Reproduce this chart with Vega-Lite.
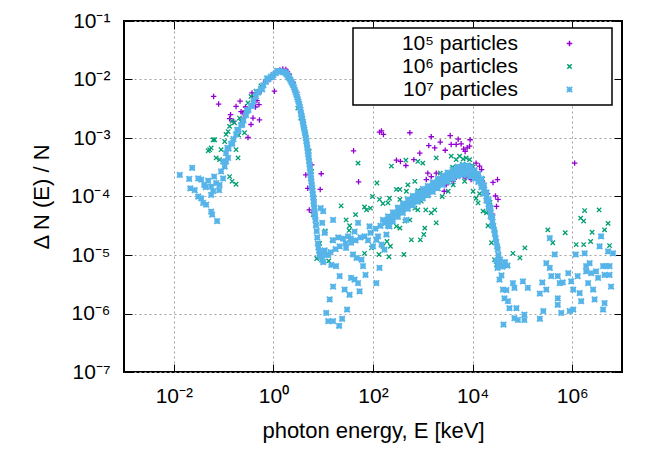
{
"$schema":"https://vega.github.io/schema/vega-lite/v6.json",
"width":498,"height":351,"autosize":"none",
"padding":{"left":124,"top":21,"right":42,"bottom":92},
"background":"white",
"config":{
"font":"Liberation Sans",
"view":{"stroke":"black","strokeWidth":2},
"axis":{"domain":false,"tickColor":"black","tickWidth":1,"labelColor":"black","labelFontSize":21,"titleFontSize":22,"titleFontWeight":"normal","titleColor":"black","gridColor":"#a0a0a0","gridDash":[2,3],"gridWidth":1,"gridOpacity":1,"labelFlush":false,"labelOverlap":false},
"legend":{"orient":"none","legendX":229,"legendY":7,"strokeColor":"black","strokeWidth":1.5,"fillColor":"white","padding":5,"labelFontSize":21,"labelColor":"black","labelAlign":"right","labelOffset":-62,"symbolOffset":201,"symbolSize":30,"symbolStrokeWidth":1.5,"rowPadding":1,"labelLimit":300,"titleOrient":"right","titlePadding":32,"titleFontSize":21}
},
"data":{"values":[
{"n":"5","E":0.0631,"N":5.13e-3},{"n":"5","E":0.0794,"N":3.8e-3},{"n":"5","E":0.138,"N":2.51e-3},{"n":"5","E":0.132,"N":2.14e-3},{"n":"5","E":0.155,"N":1.95e-3},{"n":"5","E":0.178,"N":3.47e-3},{"n":"5","E":0.214,"N":4.27e-3},{"n":"5","E":0.224,"N":2.82e-3},{"n":"5","E":0.245,"N":2.69e-3},{"n":"5","E":0.275,"N":3.39e-3},{"n":"5","E":0.372,"N":5.89e-3},{"n":"5","E":0.417,"N":5.13e-3},{"n":"5","E":0.437,"N":3.39e-3},{"n":"5","E":0.513,"N":3.72e-3},{"n":"5","E":0.525,"N":2.04e-3},{"n":"5","E":0.309,"N":1.02e-3},{"n":"5","E":0.355,"N":1.7e-3},{"n":"5","E":0.389,"N":2.19e-3},{"n":"5","E":0.468,"N":4.37e-3},{"n":"5","E":0.562,"N":6.31e-3},{"n":"5","E":0.851,"N":1.0e-2},{"n":"5","E":1.05,"N":6.31e-3},{"n":"5","E":1.23,"N":1.38e-2},{"n":"5","E":1.55,"N":1.51e-2},{"n":"5","E":1.78,"N":1.48e-2},{"n":"5","E":2.09,"N":1.23e-2},{"n":"5","E":3.55,"N":2.69e-3},{"n":"5","E":4.47,"N":2.34e-4},{"n":"5","E":4.9,"N":1.38e-4},{"n":"5","E":5.25,"N":5.89e-5},{"n":"5","E":5.89,"N":3.47e-4},{"n":"5","E":9.12,"N":2.45e-4},{"n":"5","E":8.71,"N":1.32e-4},{"n":"5","E":6.03,"N":5.37e-5},{"n":"5","E":0.708,"N":9.55e-3},{"n":"5","E":1.0,"N":1.26e-2},{"n":"5","E":1.35,"N":1.45e-2},{"n":"5","E":1.12,"N":1.35e-2},{"n":"5","E":1.91,"N":1.38e-2},{"n":"5","E":2.51,"N":8.91e-3},{"n":"5","E":2.95,"N":6.03e-3},{"n":"5","E":3.98,"N":1.91e-3},{"n":"5","E":0.631,"N":8.51e-3},{"n":"5","E":0.251,"N":2.19e-3},
{"n":"5","E":135,"N":1.26e-3},{"n":"5","E":162,"N":1.15e-3},{"n":"5","E":148,"N":1.32e-3},{"n":"5","E":550,"N":1.23e-3},{"n":"5","E":40.7,"N":6.03e-4},{"n":"5","E":51.3,"N":1.78e-4},{"n":"5","E":295,"N":4.17e-4},{"n":"5","E":355,"N":3.98e-4},{"n":"5","E":457,"N":3.39e-4},{"n":"5","E":661,"N":4.27e-4},{"n":"5","E":871,"N":5.5e-4},{"n":"5","E":1318,"N":7.41e-4},{"n":"5","E":1479,"N":1.05e-3},{"n":"5","E":1738,"N":6.76e-4},{"n":"5","E":2239,"N":8.51e-4},{"n":"5","E":2818,"N":6.17e-4},{"n":"5","E":3548,"N":1.1e-3},{"n":"5","E":3715,"N":7.76e-4},{"n":"5","E":4677,"N":7.76e-4},{"n":"5","E":5129,"N":9.55e-4},{"n":"5","E":5888,"N":7.94e-4},{"n":"5","E":6607,"N":6.46e-4},{"n":"5","E":7079,"N":5.89e-4},{"n":"5","E":7762,"N":6.76e-4},{"n":"5","E":8710,"N":7.24e-4},{"n":"5","E":8913,"N":9.33e-4},{"n":"5","E":1259,"N":2.51e-4},{"n":"5","E":1175,"N":1.95e-4},{"n":"5","E":1479,"N":2.19e-4},{"n":"5","E":1862,"N":2.51e-4},{"n":"5","E":2884,"N":2.19e-4},{"n":"5","E":2951,"N":1.58e-4},{"n":"5","E":2692,"N":1.23e-4},{"n":"5","E":4074,"N":1.82e-4},{"n":"5","E":4677,"N":2.14e-4},{"n":"5","E":6457,"N":2.29e-4},{"n":"5","E":7079,"N":2.09e-4},{"n":"5","E":9333,"N":1.95e-4},{"n":"5","E":11750,"N":3.72e-4},{"n":"5","E":13800,"N":3.31e-4},{"n":"5","E":15140,"N":2.88e-4},{"n":"5","E":25700,"N":1.74e-4},{"n":"5","E":31620,"N":1.95e-4},{"n":"5","E":28840,"N":1.02e-4},{"n":"5","E":32360,"N":8.91e-5},{"n":"5","E":30200,"N":6.76e-5},{"n":"5","E":1120000,"N":3.72e-4},{"n":"5","E":1995,"N":2.0e-4},{"n":"5","E":3981,"N":2.82e-4},{"n":"5","E":7943,"N":3.16e-4},{"n":"5","E":15850,"N":1.78e-4},{"n":"5","E":19950,"N":1.12e-4},{"n":"5","E":25120,"N":5.01e-5},{"n":"5","E":1000,"N":1.32e-4},{"n":"5","E":631,"N":1.0e-4},
{"n":"6","E":0.0617,"N":9.33e-4},{"n":"6","E":0.0661,"N":9.33e-4},{"n":"6","E":0.049,"N":6.03e-4},{"n":"6","E":0.0562,"N":6.76e-4},{"n":"6","E":0.0525,"N":6.31e-4},{"n":"6","E":0.0708,"N":4.57e-4},{"n":"6","E":0.0832,"N":4.27e-4},{"n":"6","E":0.0891,"N":6.31e-4},{"n":"6","E":0.105,"N":8.71e-4},{"n":"6","E":0.112,"N":1.15e-3},{"n":"6","E":0.132,"N":1.58e-3},{"n":"6","E":0.148,"N":1.95e-3},{"n":"6","E":0.123,"N":1.29e-3},{"n":"6","E":0.178,"N":6.31e-4},{"n":"6","E":0.195,"N":4.57e-4},{"n":"6","E":0.132,"N":2.19e-4},{"n":"6","E":0.148,"N":1.82e-4},{"n":"6","E":0.178,"N":1.62e-4},{"n":"6","E":0.166,"N":1.82e-3},{"n":"6","E":0.209,"N":2.19e-3},{"n":"6","E":0.263,"N":1.23e-3},{"n":"6","E":0.309,"N":3.98e-3},{"n":"6","E":0.355,"N":5.13e-3},{"n":"6","E":0.447,"N":6.31e-3},{"n":"6","E":0.562,"N":7.76e-3},{"n":"6","E":0.708,"N":9.33e-3},{"n":"6","E":0.977,"N":1.15e-2},{"n":"6","E":1.26,"N":1.38e-2},{"n":"6","E":1.58,"N":1.35e-2},{"n":"6","E":2.0,"N":1.17e-2},{"n":"6","E":0.224,"N":1.91e-3},{"n":"6","E":0.282,"N":2.75e-3},{"n":"6","E":0.2,"N":1.12e-3},{"n":"6","E":3.09,"N":3.24e-3},{"n":"6","E":3.55,"N":2.19e-3},{"n":"6","E":5.25,"N":5.89e-4},{"n":"6","E":5.89,"N":2.69e-4},{"n":"6","E":6.61,"N":9.33e-5},{"n":"6","E":6.31,"N":4.9e-5},{"n":"6","E":7.08,"N":3.24e-5},{"n":"6","E":7.41,"N":8.71e-6},{"n":"6","E":11.0,"N":2.57e-5},{"n":"6","E":15.1,"N":1.82e-5},{"n":"6","E":12.9,"N":7.94e-6},{"n":"6","E":8.51,"N":1.58e-5},{"n":"6","E":9.12,"N":1.0e-5},{"n":"6","E":4.57,"N":1.0e-3},{"n":"6","E":3.98,"N":1.58e-3},
{"n":"6","E":50.1,"N":3.72e-4},{"n":"6","E":22.9,"N":6.92e-5},{"n":"6","E":28.8,"N":3.98e-5},{"n":"6","E":33.9,"N":3.16e-5},{"n":"6","E":33.1,"N":2.63e-5},{"n":"6","E":44.7,"N":4.9e-5},{"n":"6","E":67.6,"N":6.61e-5},{"n":"6","E":74.1,"N":5.89e-5},{"n":"6","E":120,"N":1.7e-4},{"n":"6","E":97.7,"N":1.0e-4},{"n":"6","E":89.1,"N":6.31e-5},{"n":"6","E":135,"N":8.91e-5},{"n":"6","E":158,"N":7.59e-5},{"n":"6","E":200,"N":7.76e-5},{"n":"6","E":214,"N":9.33e-5},{"n":"6","E":234,"N":3.31e-4},{"n":"6","E":295,"N":1.32e-4},{"n":"6","E":347,"N":1.32e-4},{"n":"6","E":457,"N":4.17e-4},{"n":"6","E":468,"N":1.23e-4},{"n":"6","E":501,"N":1.58e-4},{"n":"6","E":692,"N":1.82e-4},{"n":"6","E":794,"N":3.98e-4},{"n":"6","E":1000,"N":3.72e-4},{"n":"6","E":1148,"N":5.89e-5},{"n":"6","E":1479,"N":5.25e-5},{"n":"6","E":1738,"N":5.89e-5},{"n":"6","E":1862,"N":3.55e-5},{"n":"6","E":933,"N":8.32e-5},{"n":"6","E":794,"N":5.89e-5},{"n":"6","E":692,"N":6.31e-5},{"n":"6","E":550,"N":3.98e-5},{"n":"6","E":437,"N":3.8e-5},{"n":"6","E":347,"N":2.88e-5},{"n":"6","E":295,"N":3.09e-5},{"n":"6","E":224,"N":1.41e-5},{"n":"6","E":191,"N":1.7e-5},{"n":"6","E":158,"N":1.41e-5},{"n":"6","E":132,"N":1.02e-5},{"n":"6","E":93.3,"N":1.32e-5},{"n":"6","E":67.6,"N":1.07e-5},{"n":"6","E":209,"N":9.33e-6},{"n":"6","E":417,"N":1.02e-5},{"n":"6","E":589,"N":1.82e-5},{"n":"6","E":891,"N":1.82e-5},{"n":"6","E":1047,"N":2.24e-5},{"n":"6","E":1096,"N":2.88e-5},{"n":"6","E":347,"N":8.91e-5},{"n":"6","E":1862,"N":4.57e-4},{"n":"6","E":2239,"N":2.51e-4},{"n":"6","E":2455,"N":1.0e-4},{"n":"6","E":3715,"N":4.9e-4},{"n":"6","E":4677,"N":4.27e-4},{"n":"6","E":5495,"N":4.9e-4},{"n":"6","E":6457,"N":4.37e-4},{"n":"6","E":7413,"N":4.57e-4},{"n":"6","E":8710,"N":4.27e-4},{"n":"6","E":9772,"N":3.39e-4},{"n":"6","E":10230,"N":1.23e-4},{"n":"6","E":12880,"N":7.76e-5},{"n":"6","E":16220,"N":5.62e-5},{"n":"6","E":19050,"N":5.25e-5},{"n":"6","E":20420,"N":3.16e-5},{"n":"6","E":23990,"N":1.62e-5},{"n":"6","E":27540,"N":8.32e-6},{"n":"6","E":30200,"N":6.76e-6},{"n":"6","E":34670,"N":7.76e-6},{"n":"6","E":40740,"N":6.46e-6},{"n":"6","E":64570,"N":1.07e-5},{"n":"6","E":89130,"N":8.91e-6},{"n":"6","E":112200,"N":1.32e-5},{"n":"6","E":2951,"N":1.82e-4},{"n":"6","E":3236,"N":1.23e-4},{"n":"6","E":4074,"N":1.58e-4},{"n":"6","E":6918,"N":1.82e-4},{"n":"6","E":11750,"N":9.33e-5},{"n":"6","E":13800,"N":1.12e-4},
{"n":"6","E":323600,"N":2.69e-5},{"n":"6","E":407400,"N":1.62e-5},{"n":"6","E":724400,"N":2.4e-5},{"n":"6","E":1202000,"N":1.51e-5},{"n":"6","E":1479000,"N":4.27e-5},{"n":"6","E":1698000,"N":3.8e-5},{"n":"6","E":1778000,"N":5.75e-5},{"n":"6","E":1698000,"N":1.51e-5},{"n":"6","E":2512000,"N":2.45e-5},{"n":"6","E":3467000,"N":5.89e-5},{"n":"6","E":4467000,"N":2.69e-5},{"n":"6","E":5248000,"N":3.47e-5},{"n":"6","E":5623000,"N":1.45e-5},{"n":"6","E":2344000,"N":1.7e-5},
{"n":"6","E":1585,"N":1.58e-4},{"n":"6","E":2512,"N":2.24e-4},{"n":"6","E":3981,"N":3.16e-4},{"n":"6","E":6310,"N":3.55e-4},{"n":"6","E":10000,"N":3.16e-4},{"n":"6","E":15850,"N":2.0e-4},{"n":"6","E":22390,"N":7.94e-5},{"n":"6","E":28180,"N":2.51e-5},{"n":"6","E":794,"N":1.26e-4},{"n":"6","E":501,"N":8.91e-5},{"n":"6","E":316,"N":6.31e-5},
{"n":"7","E":0.0132,"N":2.34e-4},{"n":"7","E":0.0234,"N":3.09e-4},{"n":"7","E":0.0204,"N":2.0e-4},{"n":"7","E":0.0309,"N":2.04e-4},{"n":"7","E":0.0355,"N":1.95e-4},{"n":"7","E":0.0214,"N":1.38e-4},{"n":"7","E":0.0263,"N":1.29e-4},{"n":"7","E":0.0309,"N":1.0e-4},{"n":"7","E":0.0355,"N":9.33e-5},{"n":"7","E":0.0389,"N":7.76e-5},{"n":"7","E":0.0447,"N":7.24e-5},{"n":"7","E":0.0562,"N":5.5e-5},{"n":"7","E":0.0589,"N":4.9e-5},{"n":"7","E":0.0741,"N":3.8e-5},{"n":"7","E":0.0407,"N":1.58e-4},{"n":"7","E":0.049,"N":1.86e-4},{"n":"7","E":0.0562,"N":1.48e-4},{"n":"7","E":0.0562,"N":1.07e-4},{"n":"7","E":0.0617,"N":1.23e-4},{"n":"7","E":0.0646,"N":2.19e-4},{"n":"7","E":0.0708,"N":1.7e-4},{"n":"7","E":0.0832,"N":1.58e-4},{"n":"7","E":0.0813,"N":1.29e-4},{"n":"7","E":0.0977,"N":2.04e-4},{"n":"7","E":0.0891,"N":2.69e-4},{"n":"7","E":0.105,"N":3.24e-4},{"n":"7","E":0.112,"N":3.98e-4},{"n":"7","E":0.0977,"N":3.98e-4},{"n":"7","E":0.123,"N":4.57e-4},{"n":"7","E":0.0437,"N":1.45e-4},
{"n":"7","E":0.112,"N":5.5e-4},{"n":"7","E":0.126,"N":6.61e-4},{"n":"7","E":0.141,"N":7.94e-4},{"n":"7","E":0.158,"N":9.55e-4},{"n":"7","E":0.178,"N":1.15e-3},{"n":"7","E":0.2,"N":1.38e-3},{"n":"7","E":0.224,"N":1.66e-3},{"n":"7","E":0.251,"N":2.0e-3},{"n":"7","E":0.282,"N":2.45e-3},{"n":"7","E":0.316,"N":3.02e-3},{"n":"7","E":0.355,"N":3.55e-3},{"n":"7","E":0.398,"N":4.27e-3},{"n":"7","E":0.447,"N":5.13e-3},{"n":"7","E":0.501,"N":6.03e-3},{"n":"7","E":0.562,"N":6.92e-3},{"n":"7","E":0.631,"N":7.94e-3},{"n":"7","E":0.708,"N":9.12e-3},{"n":"7","E":0.794,"N":1.02e-2},{"n":"7","E":0.891,"N":1.12e-2},{"n":"7","E":1.0,"N":1.2e-2},{"n":"7","E":1.12,"N":1.29e-2},{"n":"7","E":1.26,"N":1.35e-2},{"n":"7","E":1.41,"N":1.38e-2},
{"n":"7","E":0.119,"N":6.76e-4},{"n":"7","E":0.15,"N":8.13e-4},{"n":"7","E":0.188,"N":1.38e-3},{"n":"7","E":0.237,"N":1.7e-3},{"n":"7","E":0.299,"N":2.95e-3},{"n":"7","E":0.376,"N":3.55e-3},{"n":"7","E":0.473,"N":6.03e-3},{"n":"7","E":0.596,"N":6.76e-3},{"n":"7","E":0.75,"N":1.05e-2},{"n":"7","E":0.944,"N":1.1e-2},{"n":"7","E":1.19,"N":1.41e-2},
{"n":"7","E":1.6,"N":1.35e-2},{"n":"7","E":1.7,"N":1.32e-2},{"n":"7","E":1.8,"N":1.26e-2},{"n":"7","E":1.9,"N":1.2e-2},{"n":"7","E":2.0,"N":1.12e-2},{"n":"7","E":2.1,"N":1.05e-2},{"n":"7","E":2.2,"N":9.77e-3},{"n":"7","E":2.3,"N":9.12e-3},{"n":"7","E":2.4,"N":8.51e-3},{"n":"7","E":2.5,"N":7.94e-3},{"n":"7","E":2.6,"N":7.24e-3},{"n":"7","E":2.7,"N":6.61e-3},{"n":"7","E":2.8,"N":6.03e-3},{"n":"7","E":2.9,"N":5.5e-3},{"n":"7","E":3.0,"N":5.01e-3},{"n":"7","E":3.1,"N":4.57e-3},{"n":"7","E":3.2,"N":4.17e-3},{"n":"7","E":3.3,"N":3.8e-3},{"n":"7","E":3.4,"N":3.39e-3},{"n":"7","E":3.5,"N":3.02e-3},{"n":"7","E":3.6,"N":2.69e-3},{"n":"7","E":3.7,"N":2.4e-3},{"n":"7","E":3.8,"N":2.14e-3},{"n":"7","E":3.9,"N":1.91e-3},{"n":"7","E":4.0,"N":1.7e-3},{"n":"7","E":4.1,"N":1.51e-3},{"n":"7","E":4.2,"N":1.38e-3},{"n":"7","E":4.3,"N":1.23e-3},{"n":"7","E":4.4,"N":1.12e-3},{"n":"7","E":4.5,"N":1.0e-3},{"n":"7","E":4.6,"N":8.71e-4},{"n":"7","E":4.7,"N":7.76e-4},{"n":"7","E":4.8,"N":6.76e-4},{"n":"7","E":4.9,"N":6.03e-4},{"n":"7","E":5.0,"N":5.25e-4},{"n":"7","E":5.1,"N":4.68e-4},{"n":"7","E":5.2,"N":4.07e-4},{"n":"7","E":5.3,"N":3.55e-4},{"n":"7","E":5.4,"N":3.09e-4},{"n":"7","E":5.5,"N":2.69e-4},{"n":"7","E":5.6,"N":2.34e-4},{"n":"7","E":5.7,"N":2.04e-4},{"n":"7","E":5.8,"N":1.82e-4},{"n":"7","E":5.9,"N":1.58e-4},{"n":"7","E":6.0,"N":1.41e-4},{"n":"7","E":6.1,"N":1.26e-4},{"n":"7","E":6.2,"N":1.1e-4},{"n":"7","E":6.3,"N":9.55e-5},{"n":"7","E":6.4,"N":8.32e-5},{"n":"7","E":6.5,"N":7.41e-5},{"n":"7","E":6.6,"N":6.46e-5},{"n":"7","E":6.7,"N":5.62e-5},{"n":"7","E":6.8,"N":5.01e-5},{"n":"7","E":6.9,"N":4.47e-5},{"n":"7","E":7.0,"N":3.98e-5},{"n":"7","E":7.2,"N":3.24e-5},{"n":"7","E":7.4,"N":2.57e-5},{"n":"7","E":7.6,"N":2.0e-5},{"n":"7","E":7.8,"N":1.58e-5},{"n":"7","E":8.0,"N":1.35e-5},{"n":"7","E":8.3,"N":1.17e-5},{"n":"7","E":8.6,"N":1.05e-5},{"n":"7","E":9.0,"N":9.33e-6},{"n":"7","E":9.5,"N":8.32e-6},{"n":"7","E":10,"N":7.59e-6},
{"n":"7","E":10.0,"N":5.62e-5},{"n":"7","E":15.8,"N":3.98e-5},{"n":"7","E":10.7,"N":2.4e-5},{"n":"7","E":11.5,"N":1.02e-5},{"n":"7","E":8.51,"N":1.02e-5},{"n":"7","E":14.5,"N":6.76e-6},{"n":"7","E":18.2,"N":6.46e-6},{"n":"7","E":21.4,"N":4.37e-6},{"n":"7","E":15.8,"N":2.88e-6},{"n":"7","E":13.5,"N":1.74e-6},{"n":"7","E":11.5,"N":1.02e-6},{"n":"7","E":12.6,"N":7.41e-7},{"n":"7","E":15.8,"N":7.41e-7},{"n":"7","E":20.9,"N":6.17e-7},{"n":"7","E":24.0,"N":8.13e-7},{"n":"7","E":30.2,"N":1.17e-6},{"n":"7","E":26.9,"N":2.57e-6},{"n":"7","E":33.9,"N":2.09e-6},{"n":"7","E":36.3,"N":4.07e-6},{"n":"7","E":42.7,"N":3.8e-6},{"n":"7","E":50.1,"N":3.31e-6},{"n":"7","E":53.7,"N":2.4e-6},{"n":"7","E":70.8,"N":4.57e-6},{"n":"7","E":117,"N":3.31e-6},{"n":"7","E":135,"N":6.03e-6},{"n":"7","E":39.8,"N":1.02e-5},{"n":"7","E":46.8,"N":8.91e-6},{"n":"7","E":58.9,"N":8.32e-6},{"n":"7","E":63.1,"N":6.46e-6},{"n":"7","E":28.8,"N":1.32e-5},{"n":"7","E":36.3,"N":1.62e-5},{"n":"7","E":21.4,"N":1.41e-5},{"n":"7","E":42.7,"N":2.51e-5},{"n":"7","E":50.1,"N":3.55e-5},{"n":"7","E":67.6,"N":2.09e-5},{"n":"7","E":85.1,"N":3.09e-5},{"n":"7","E":100,"N":1.41e-5},{"n":"7","E":117,"N":1.82e-5},{"n":"7","E":148,"N":1.51e-5},{"n":"7","E":170,"N":1.23e-5},{"n":"7","E":186,"N":2.24e-5},{"n":"7","E":214,"N":3.09e-5},{"n":"7","E":158,"N":3.98e-5},{"n":"7","E":468,"N":3.98e-5},
{"n":"7","E":8.91,"N":1.0e-5},{"n":"7","E":12.6,"N":1.0e-5},{"n":"7","E":14.1,"N":1.12e-5},{"n":"7","E":10.7,"N":1.2e-5},{"n":"7","E":15.8,"N":1.78e-5},{"n":"7","E":20,"N":2.0e-5},{"n":"7","E":25.1,"N":1.91e-5},{"n":"7","E":17.8,"N":1.26e-5},{"n":"7","E":28.2,"N":1.58e-5},{"n":"7","E":31.6,"N":2.09e-5},{"n":"7","E":35.5,"N":1.91e-5},{"n":"7","E":44.7,"N":1.78e-5},{"n":"7","E":56.2,"N":2.0e-5},{"n":"7","E":79.4,"N":1.78e-5},{"n":"7","E":89.1,"N":2.4e-5},{"n":"7","E":112,"N":2.82e-5},{"n":"7","E":126,"N":2.09e-5},{"n":"7","E":141,"N":3.16e-5},{"n":"7","E":178,"N":3.55e-5},{"n":"7","E":9.55,"N":3.55e-5},{"n":"7","E":8.91,"N":6.31e-5},
{"n":"7","E":200,"N":3.8e-5},{"n":"7","E":224,"N":4.07e-5},{"n":"7","E":251,"N":4.47e-5},{"n":"7","E":282,"N":4.9e-5},{"n":"7","E":316,"N":5.37e-5},{"n":"7","E":355,"N":5.75e-5},{"n":"7","E":398,"N":6.31e-5},{"n":"7","E":447,"N":6.92e-5},{"n":"7","E":501,"N":7.41e-5},{"n":"7","E":562,"N":7.94e-5},{"n":"7","E":631,"N":8.51e-5},{"n":"7","E":708,"N":9.12e-5},{"n":"7","E":794,"N":9.77e-5},{"n":"7","E":891,"N":1.05e-4},{"n":"7","E":1000,"N":1.12e-4},{"n":"7","E":1122,"N":1.2e-4},{"n":"7","E":1259,"N":1.26e-4},{"n":"7","E":1413,"N":1.35e-4},{"n":"7","E":1585,"N":1.45e-4},{"n":"7","E":1778,"N":1.55e-4},{"n":"7","E":1995,"N":1.66e-4},{"n":"7","E":2239,"N":1.78e-4},{"n":"7","E":2512,"N":1.91e-4},{"n":"7","E":2818,"N":2.04e-4},{"n":"7","E":3162,"N":2.14e-4},{"n":"7","E":3548,"N":2.29e-4},{"n":"7","E":3981,"N":2.4e-4},{"n":"7","E":4467,"N":2.51e-4},{"n":"7","E":5012,"N":2.69e-4},{"n":"7","E":5623,"N":2.75e-4},{"n":"7","E":6310,"N":2.82e-4},{"n":"7","E":7079,"N":2.88e-4},{"n":"7","E":7943,"N":2.82e-4},
{"n":"7","E":200,"N":4.57e-5},{"n":"7","E":200,"N":3.16e-5},{"n":"7","E":251,"N":5.37e-5},{"n":"7","E":251,"N":3.72e-5},{"n":"7","E":316,"N":6.46e-5},{"n":"7","E":316,"N":4.47e-5},{"n":"7","E":398,"N":7.59e-5},{"n":"7","E":398,"N":5.25e-5},{"n":"7","E":501,"N":8.91e-5},{"n":"7","E":501,"N":6.17e-5},{"n":"7","E":631,"N":1.02e-4},{"n":"7","E":631,"N":7.08e-5},{"n":"7","E":794,"N":1.17e-4},{"n":"7","E":794,"N":8.13e-5},{"n":"7","E":1000,"N":1.35e-4},{"n":"7","E":1000,"N":9.33e-5},{"n":"7","E":1259,"N":1.51e-4},{"n":"7","E":1259,"N":1.05e-4},{"n":"7","E":1585,"N":1.74e-4},{"n":"7","E":1585,"N":1.2e-4},{"n":"7","E":1995,"N":2.0e-4},{"n":"7","E":1995,"N":1.38e-4},{"n":"7","E":2512,"N":2.29e-4},{"n":"7","E":2512,"N":1.58e-4},{"n":"7","E":3162,"N":2.57e-4},{"n":"7","E":3162,"N":1.78e-4},{"n":"7","E":3981,"N":2.88e-4},{"n":"7","E":3981,"N":2.0e-4},{"n":"7","E":5012,"N":3.24e-4},{"n":"7","E":5012,"N":2.24e-4},{"n":"7","E":6310,"N":3.39e-4},{"n":"7","E":6310,"N":2.34e-4},{"n":"7","E":7943,"N":3.39e-4},{"n":"7","E":7943,"N":2.34e-4},
{"n":"7","E":10000,"N":2.57e-4},{"n":"7","E":11000,"N":2.4e-4},{"n":"7","E":12000,"N":2.24e-4},{"n":"7","E":13000,"N":2.09e-4},{"n":"7","E":14000,"N":1.91e-4},{"n":"7","E":15000,"N":1.7e-4},{"n":"7","E":16000,"N":1.51e-4},{"n":"7","E":17000,"N":1.32e-4},{"n":"7","E":18000,"N":1.17e-4},{"n":"7","E":19000,"N":1.0e-4},{"n":"7","E":20000,"N":8.51e-5},{"n":"7","E":21000,"N":7.41e-5},{"n":"7","E":22000,"N":6.46e-5},{"n":"7","E":23000,"N":5.37e-5},{"n":"7","E":24000,"N":4.47e-5},{"n":"7","E":25000,"N":3.72e-5},{"n":"7","E":26000,"N":3.16e-5},{"n":"7","E":27000,"N":2.69e-5},{"n":"7","E":28000,"N":2.29e-5},{"n":"7","E":29000,"N":1.95e-5},{"n":"7","E":30000,"N":1.66e-5},{"n":"7","E":31000,"N":1.41e-5},{"n":"7","E":32000,"N":1.26e-5},{"n":"7","E":33000,"N":1.0e-5},
{"n":"7","E":9000,"N":3.16e-4},{"n":"7","E":9000,"N":2.19e-4},{"n":"7","E":11000,"N":2.82e-4},{"n":"7","E":11000,"N":2.04e-4},{"n":"7","E":13000,"N":2.45e-4},{"n":"7","E":13000,"N":1.78e-4},{"n":"7","E":15000,"N":2.0e-4},{"n":"7","E":15000,"N":1.45e-4},{"n":"7","E":17000,"N":1.55e-4},{"n":"7","E":17000,"N":1.12e-4},{"n":"7","E":19000,"N":1.17e-4},{"n":"7","E":19000,"N":8.51e-5},{"n":"7","E":21000,"N":8.71e-5},{"n":"7","E":21000,"N":6.31e-5},{"n":"7","E":23000,"N":6.31e-5},{"n":"7","E":23000,"N":4.57e-5},{"n":"7","E":25000,"N":4.37e-5},{"n":"7","E":25000,"N":3.16e-5},
{"n":"7","E":30200,"N":7.94e-6},{"n":"7","E":33110,"N":7.08e-6},{"n":"7","E":35480,"N":8.32e-6},{"n":"7","E":39810,"N":6.31e-6},{"n":"7","E":44670,"N":7.59e-6},{"n":"7","E":50120,"N":6.61e-6},{"n":"7","E":31620,"N":6.03e-6},
{"n":"7","E":34670,"N":3.8e-6},{"n":"7","E":40740,"N":2.57e-6},{"n":"7","E":43650,"N":1.82e-6},{"n":"7","E":51290,"N":1.62e-6},{"n":"7","E":54950,"N":1.23e-6},{"n":"7","E":69180,"N":2.75e-6},{"n":"7","E":64570,"N":3.31e-6},{"n":"7","E":102300,"N":3.55e-6},{"n":"7","E":128800,"N":2.75e-6},{"n":"7","E":75860,"N":1.23e-6},{"n":"7","E":69180,"N":8.32e-7},{"n":"7","E":81280,"N":7.76e-7},{"n":"7","E":109600,"N":7.76e-7},{"n":"7","E":109600,"N":9.55e-7},{"n":"7","E":41690,"N":6.46e-7},{"n":"7","E":223900,"N":2.19e-6},{"n":"7","E":302000,"N":2.57e-6},{"n":"7","E":251200,"N":3.39e-6},{"n":"7","E":302000,"N":7.24e-6},{"n":"7","E":354800,"N":6.03e-6},{"n":"7","E":380200,"N":4.37e-6},{"n":"7","E":446700,"N":1.02e-5},{"n":"7","E":354800,"N":1.95e-5},{"n":"7","E":512900,"N":4.37e-6},{"n":"7","E":562300,"N":3.31e-6},{"n":"7","E":512900,"N":1.82e-6},{"n":"7","E":512900,"N":1.41e-6},{"n":"7","E":645700,"N":3.39e-6},{"n":"7","E":831800,"N":4.9e-6},{"n":"7","E":955000,"N":3.55e-6},{"n":"7","E":1047000,"N":2.57e-6},{"n":"7","E":1175000,"N":1.02e-5},{"n":"7","E":1288000,"N":4.37e-6},{"n":"7","E":1413000,"N":2.24e-6},{"n":"7","E":1514000,"N":1.62e-6},{"n":"7","E":1778000,"N":1.07e-5},{"n":"7","E":1905000,"N":6.46e-6},{"n":"7","E":1905000,"N":5.25e-6},{"n":"7","E":2089000,"N":3.31e-6},{"n":"7","E":2239000,"N":7.24e-6},{"n":"7","E":2399000,"N":4.9e-6},{"n":"7","E":2630000,"N":2.57e-6},{"n":"7","E":2818000,"N":1.74e-6},{"n":"7","E":3020000,"N":5.25e-6},{"n":"7","E":3311000,"N":4.07e-6},{"n":"7","E":3548000,"N":1.41e-5},{"n":"7","E":3802000,"N":2.09e-5},{"n":"7","E":4169000,"N":6.46e-6},{"n":"7","E":4467000,"N":4.57e-6},{"n":"7","E":4786000,"N":6.46e-6},{"n":"7","E":5248000,"N":1.15e-5},{"n":"7","E":5623000,"N":6.46e-6},{"n":"7","E":5623000,"N":4.57e-6},{"n":"7","E":6026000,"N":2.88e-6},{"n":"7","E":4467000,"N":1.51e-6},{"n":"7","E":4169000,"N":1.17e-6},{"n":"7","E":1047000,"N":1.17e-6},{"n":"7","E":891300,"N":1.1e-6},{"n":"7","E":263000,"N":1.1e-6},{"n":"7","E":223900,"N":8.13e-7},{"n":"7","E":602600,"N":1.02e-6},{"n":"7","E":6607000,"N":1.07e-5},{"n":"7","E":38020,"N":4.47e-6},{"n":"7","E":47860,"N":2.51e-6}
]},
"resolve":{"axis":{"x":"independent","y":"independent"}},
"layer":[
{"transform":[{"filter":"datum.n == '5'"}],
 "mark":{"type":"point","filled":false,"size":30,"strokeWidth":1.3,"opacity":1},
 "encoding":{
  "x":{"field":"E","type":"quantitative","scale":{"type":"log","domain":[0.001,10000000],"nice":false},
   "axis":{"orient":"bottom","values":[0.01,1,100,10000,1000000],"grid":true,"tickSize":-8,"labelPadding":21,"labelExpr":"'10' + (datum.value < 1 ? '⁻' : '') + ['⁰','¹','²','³','⁴','⁵','⁶','⁷'][round(abs(log(datum.value)/LN10))]","title":"photon energy, E [keV]","titlePadding":14}},
  "y":{"field":"N","type":"quantitative","scale":{"type":"log","domain":[1e-7,0.1],"nice":false},
   "axis":{"orient":"left","values":[1e-7,1e-6,1e-5,1e-4,1e-3,1e-2,1e-1],"grid":true,"tickSize":-8,"labelPadding":22,"labelExpr":"'10' + (datum.value < 1 ? '⁻' : '') + ['⁰','¹','²','³','⁴','⁵','⁶','⁷'][round(abs(log(datum.value)/LN10))]","title":"Δ N (E) / N","titlePadding":17}},
  "color":{"field":"n","type":"nominal","scale":{"domain":["5","6","7"],"range":["#9400d3","#009e73","#56b4e9"]},"legend":{"title":" ","labelExpr":"'10' + (datum.value == '5' ? '⁵' : datum.value == '6' ? '⁶' : '⁷') + ' particles'"}},
  "shape":{"field":"n","type":"nominal","scale":{"domain":["5","6","7"],"range":["M-1,0L1,0M0,-1L0,1","M-0.8,-0.8L0.8,0.8M-0.8,0.8L0.8,-0.8","M-1,0L1,0M0,-1L0,1M-1,-1L1,1M-1,1L1,-1"]},"legend":{"title":" ","labelExpr":"'10' + (datum.value == '5' ? '⁵' : datum.value == '6' ? '⁶' : '⁷') + ' particles'"}}
 }},
{"transform":[{"filter":"datum.n == '6'"}],
 "mark":{"type":"point","filled":false,"size":30,"strokeWidth":1.3,"opacity":1},
 "encoding":{
  "x":{"field":"E","type":"quantitative","axis":null},
  "y":{"field":"N","type":"quantitative","axis":null},
  "color":{"field":"n","type":"nominal"},
  "shape":{"field":"n","type":"nominal"}
 }},
{"transform":[{"filter":"datum.n == '7'"}],
 "mark":{"type":"point","filled":false,"size":30,"strokeWidth":1.8,"strokeCap":"butt","opacity":1},
 "encoding":{
  "x":{"field":"E","type":"quantitative","axis":null},
  "y":{"field":"N","type":"quantitative","axis":null},
  "color":{"field":"n","type":"nominal"},
  "shape":{"field":"n","type":"nominal"}
 }},
{"transform":[{"filter":"datum.n == '5'"}],
 "mark":{"type":"point","opacity":0},
 "encoding":{
  "x":{"field":"E","type":"quantitative","axis":{"orient":"top","values":[0.01,1,100,10000,1000000],"grid":false,"labels":false,"tickSize":-8,"title":null}},
  "y":{"field":"N","type":"quantitative","axis":{"orient":"right","values":[1e-7,1e-6,1e-5,1e-4,1e-3,1e-2,1e-1],"grid":false,"labels":false,"tickSize":-8,"title":null}}
 }}
]
}
